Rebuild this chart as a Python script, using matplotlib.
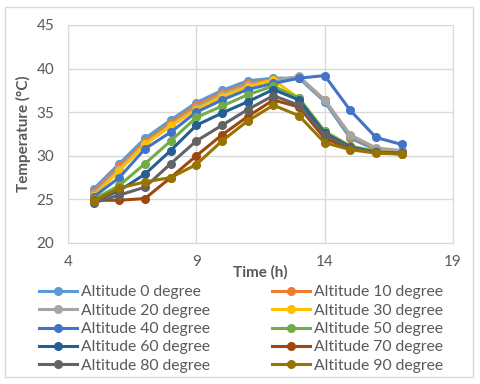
import matplotlib.pyplot as plt
from matplotlib.patches import FancyBboxPatch

hours = [5, 6, 7, 8, 9, 10, 11, 12, 13, 14, 15, 16, 17]

alt0 = [26.2, 29.1, 32.0, 34.1, 36.1, 37.5, 38.6, 38.9, 38.9, 36.2, 32.0, 30.7, 30.5]
alt10 = [25.9, 28.8, 31.6, 33.8, 35.8, 37.2, 38.3, 38.7, 39.0, 36.4, 32.3, 30.8, 30.5]
alt20 = [25.6, 28.5, 31.4, 33.5, 35.5, 37.0, 38.1, 38.6, 39.1, 36.4, 32.4, 30.9, 30.6]
alt30 = [25.4, 28.3, 31.3, 33.4, 35.3, 36.8, 37.9, 38.7, 36.6, 32.8, 31.1, 30.5, 30.3]
alt40 = [25.3, 27.5, 30.8, 32.7, 35.0, 36.4, 37.6, 38.3, 38.9, 39.2, 35.2, 32.1, 31.3]
alt50 = [25.0, 26.6, 29.1, 31.7, 34.4, 35.7, 37.0, 38.0, 36.6, 32.8, 31.1, 30.5, 30.3]
alt60 = [24.8, 26.0, 27.9, 30.6, 33.5, 34.9, 36.2, 37.6, 36.4, 32.6, 31.0, 30.4, 30.3]
alt70 = [24.9, 24.9, 25.1, 27.5, 30.0, 32.4, 34.5, 36.4, 35.6, 32.0, 30.8, 30.4, 30.2]
alt80 = [24.6, 25.5, 26.4, 29.1, 31.7, 33.5, 35.3, 36.9, 35.8, 32.4, 30.9, 30.4, 30.3]
alt90 = [24.8, 26.3, 27.0, 27.5, 29.0, 31.7, 34.0, 35.8, 34.6, 31.5, 30.7, 30.3, 30.2]

series = [alt0, alt10, alt20, alt30, alt40, alt50, alt60, alt70, alt80, alt90]
labels = ["Altitude %d degree" % a for a in range(0, 100, 10)]
colors = ["#5B9BD5", "#ED7D31", "#A5A5A5", "#FFC000", "#4472C4",
          "#70AD47", "#255E91", "#9E480E", "#636363", "#997300"]

xticks = [4, 9, 14, 19]
yticks = [20, 25, 30, 35, 40, 45]

plt.rcParams['font.family'] = ['Lato', 'DejaVu Sans']
txt = "#595959"
grid = "#D9D9D9"

fig = plt.figure(figsize=(4.8, 3.84), dpi=100)
ax = fig.add_axes([68/480, 1-243/384, (453-68)/480, (243-25)/384])

handles = []
for ys, lab, c in zip(series, labels, colors):
    h, = ax.plot(hours, ys, color=c, lw=2.2, marker='o', ms=5.5, label=lab)
    handles.append(h)

ax.set_xlim(4, 19)
ax.set_ylim(20, 45)
ax.set_xticks(xticks)
ax.set_yticks(yticks)
ax.grid(True, color=grid, lw=1)
ax.set_axisbelow(True)
for s in ax.spines.values():
    s.set_color(grid)
ax.tick_params(length=0, colors=txt, labelsize=11)
ax.tick_params(axis='y', pad=10)
ax.tick_params(axis='x', pad=9)

ax.set_xlabel("Time (h)", fontsize=11, fontweight='bold', color=txt, labelpad=-3)
ax.set_ylabel("Temperature (\u00b0C)", fontsize=11, fontweight='bold', color=txt, labelpad=4)

# legend: Excel fills rows first, matplotlib fills columns
order = [0, 2, 4, 6, 8, 1, 3, 5, 7, 9]
leg = fig.legend([handles[i] for i in order], [labels[i] for i in order],
                 ncol=2, loc='center', bbox_to_anchor=(241/480, 1-329/384),
                 frameon=False, fontsize=11.3, handlelength=2.4, handletextpad=0.25,
                 columnspacing=4.0, labelspacing=0.28, borderpad=0)
for t in leg.get_texts():
    t.set_color(txt)

fig.patches.append(FancyBboxPatch((5/480, 7/384), 468/480, 370/384,
                                  boxstyle="square,pad=0", transform=fig.transFigure,
                                  fill=False, edgecolor=grid, lw=1))

fig.savefig("out.png", dpi=100)
